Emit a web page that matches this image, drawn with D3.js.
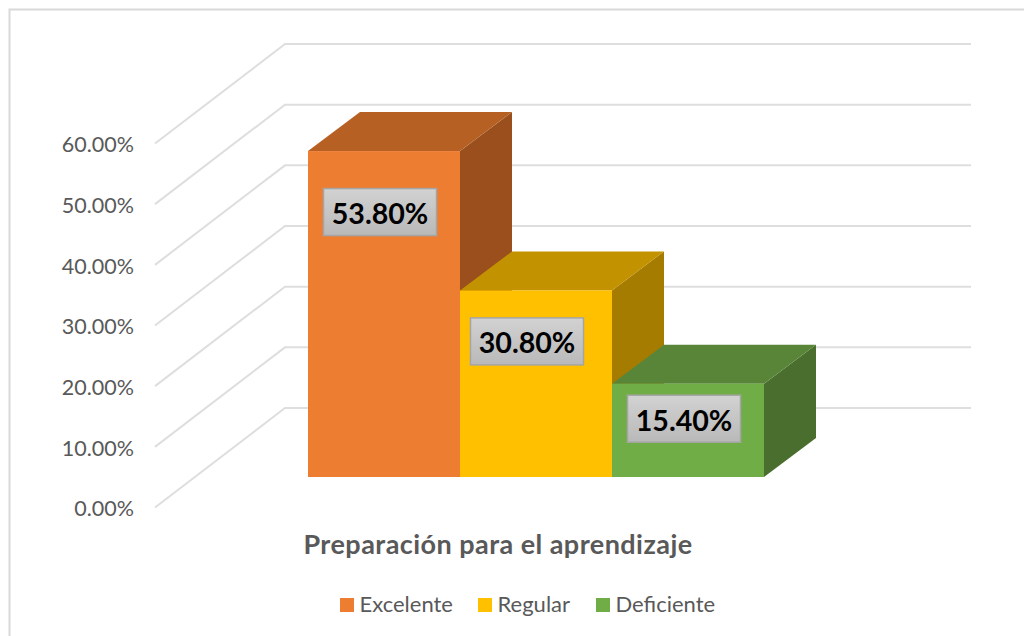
<!DOCTYPE html>
<html>
<head>
<meta charset="utf-8">
<script src="https://cdn.jsdelivr.net/npm/d3@7"></script>
<style>
    html, body { margin: 0; padding: 0; background: #fff; }
    svg { display: block; }
    text { font-family: Lato, "Open Sans", sans-serif; }
</style>
</head>
<body>
<div id="canvas"></div>
<script>
"use strict"

/* data */
const categories = ["Excelente", "Regular", "Deficiente"];
const values = [53.8, 30.8, 15.4];
const tickValues = [0, 10, 20, 30, 40, 50, 60];
const titleText = "Preparación para el aprendizaje";

const frontColors = ["#ED7D31", "#FFC000", "#70AD47"];
const topColors = ["#B66024", "#C29200", "#598539"];
const sideColors = ["#9A4F1C", "#A67C00", "#4A6E2D"];

// labels were moved by hand in the original, so they don't sit centered on the bars
const labelShiftX = [-4, -9, -4];
const labelShiftY = [61, 51, 35];

let drawing = d3.select("#canvas")
    .append("svg")
    .attr("width", 1024)
    .attr("height", 636);

let defs = drawing.append("defs");
let grad = defs.append("linearGradient")
    .attr("id", "labelFill")
    .attr("x1", 0).attr("y1", 0).attr("x2", 0).attr("y2", 1);
grad.append("stop").attr("offset", "0%").attr("stop-color", "#D2D2D2");
grad.append("stop").attr("offset", "100%").attr("stop-color", "#B9B9B9");

/* chart border */
drawing.append("path")
    .attr("d", "M1024,9.5H9.5V636")
    .attr("fill", "none")
    .attr("stroke", "#D9D9D9")
    .attr("stroke-width", 2);

/* scales: wall is the back plane, front is where the axis sits, bar is the bar front face */
const depthX = 130, depthY = -99.5;
let yWall = d3.scaleLinear().domain([0, 60]).range([408, 44]);
let yFront = d3.scaleLinear().domain([0, 60]).range([408 - depthY, 44 - depthY]);
let yBar = d3.scaleLinear().domain([0, 60]).range([477, 113.5]);
let xBar = d3.scaleBand().domain(categories).range([308, 764]);
const barDx = 52, barDy = -39;

/* gridlines */
let grid = drawing.append("g");
tickValues.forEach(function (t) {
    grid.append("polyline")
        .attr("points", [[155, yFront(t)], [155 + depthX, yWall(t)], [971, yWall(t)]].join(" "))
        .attr("fill", "none")
        .attr("stroke", "#DEDEDE")
        .attr("stroke-width", 2);
});

/* value axis */
let axis = d3.axisLeft(yFront)
    .tickValues(tickValues)
    .tickSize(0)
    .tickPadding(0)
    .tickFormat(d => d.toFixed(2) + "%");

let axisG = drawing.append("g")
    .attr("transform", "translate(134,1.5)")
    .call(axis);
axisG.select(".domain").remove();
axisG.selectAll("text")
    .attr("font-size", 21.5)
    .attr("fill", "#595959")
    .style("font-family", "Lato, sans-serif");

/* bars, later bars cover the earlier side faces */
categories.forEach(function (c, i) {
    let x0 = xBar(c);
    let x1 = x0 + xBar.bandwidth();
    let top = yBar(values[i]);
    let bottom = yBar(0);

    drawing.append("polygon") // side face
        .attr("points", [[x1, top], [x1 + barDx, top + barDy], [x1 + barDx, bottom + barDy], [x1, bottom]].join(" "))
        .attr("fill", sideColors[i]);

    drawing.append("polygon") // top face
        .attr("points", [[x0, top], [x0 + barDx, top + barDy], [x1 + barDx, top + barDy], [x1, top]].join(" "))
        .attr("fill", topColors[i]);

    drawing.append("rect") // front face
        .attr("x", x0)
        .attr("y", top)
        .attr("width", x1 - x0)
        .attr("height", bottom - top)
        .attr("fill", frontColors[i]);
});

/* data labels */
categories.forEach(function (c, i) {
    let cx = xBar(c) + xBar.bandwidth() / 2 + labelShiftX[i];
    let cy = yBar(values[i]) + labelShiftY[i];

    drawing.append("rect")
        .attr("x", cx - 56.5)
        .attr("y", cy - 23.5)
        .attr("width", 113)
        .attr("height", 47)
        .attr("fill", "url(#labelFill)")
        .attr("stroke", "#A5A5A5")
        .attr("stroke-width", 1.5);

    drawing.append("text")
        .attr("x", cx)
        .attr("y", cy + 12)
        .attr("text-anchor", "middle")
        .attr("font-size", 28.6)
        .attr("font-weight", "bold")
        .attr("fill", "#000")
        .text(values[i].toFixed(2) + "%");
});

/* axis title */
drawing.append("text")
    .attr("x", 498)
    .attr("y", 554)
    .attr("text-anchor", "middle")
    .attr("font-size", 27)
    .attr("font-weight", "bold")
    .attr("letter-spacing", 0.45)
    .attr("fill", "#595959")
    .text(titleText);

/* legend */
const legendStarts = [340, 478, 596];
categories.forEach(function (c, i) {
    drawing.append("rect")
        .attr("x", legendStarts[i])
        .attr("y", 598)
        .attr("width", 14)
        .attr("height", 14)
        .attr("fill", frontColors[i]);

    drawing.append("text")
        .attr("x", legendStarts[i] + 19.5)
        .attr("y", 612)
        .attr("font-size", 22)
        .attr("fill", "#595959")
        .text(c);
});
</script>
</body>
</html>
